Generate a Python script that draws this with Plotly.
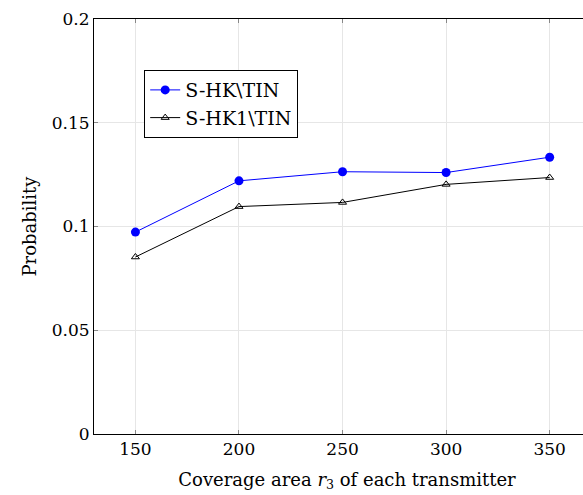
import plotly.graph_objects as go

x_vals = [150, 200, 250, 300, 350]
s_hk_tin = [0.0973, 0.1220, 0.1264, 0.1260, 0.1334]
s_hk1_tin = [0.0853, 0.1096, 0.1116, 0.1203, 0.1236]
y_ticks = [0, 0.05, 0.1, 0.15, 0.2]
y_tick_text = ["0", "0.05", "0.1", "0.15", "0.2"]
x_ticks = [150, 200, 250, 300, 350]
x_range = [130, 374.3]

font_family = "DejaVu Serif"

fig = go.Figure()
fig.add_trace(go.Scatter(
    x=x_vals, y=s_hk_tin, mode="lines+markers", name="S-HK\\TIN",
    line=dict(color="#0000ff", width=1),
    marker=dict(symbol="circle", size=9, color="#0000ff"),
))
fig.add_trace(go.Scatter(
    x=x_vals, y=s_hk1_tin, mode="lines+markers", name="S-HK1\\TIN",
    line=dict(color="black", width=1),
    marker=dict(symbol="triangle-up-open", size=7, color="black", line=dict(width=1)),
))
# invisible trace so the top axis (ticks only) is drawn
fig.add_trace(go.Scatter(x=x_vals, y=s_hk_tin, xaxis="x2", yaxis="y",
                         mode="none", showlegend=False, hoverinfo="skip"))

fig.update_layout(
    width=600, height=495,
    margin=dict(l=94, r=0, t=19, b=61),
    paper_bgcolor="white", plot_bgcolor="white",
    font=dict(family=font_family, size=17, color="black"),
    showlegend=True,
    legend=dict(
        x=0.0992, y=0.877, xanchor="left", yanchor="top",
        bordercolor="black", borderwidth=1, bgcolor="white",
        font=dict(size=19, family=font_family),
        tracegroupgap=0, itemwidth=30,
    ),
    xaxis=dict(
        range=x_range, tickvals=x_ticks,
        showgrid=True, gridcolor="#e6e6e6", gridwidth=1,
        showline=True, linecolor="black", linewidth=1, mirror=False,
        ticks="inside", ticklen=4, tickcolor="#888888",
        zeroline=False,
        title=dict(text="Coverage area <i>r</i><sub>3</sub> of each transmitter",
                   font=dict(size=18, family=font_family), standoff=14),
        tickfont=dict(size=17),
    ),
    xaxis2=dict(
        overlaying="x", side="top", anchor="y",
        range=x_range, tickvals=x_ticks, showticklabels=False,
        showgrid=False, zeroline=False,
        showline=True, linecolor="black", linewidth=1,
        ticks="inside", ticklen=4, tickcolor="#888888",
    ),
    yaxis=dict(
        range=[0, 0.2], tickvals=y_ticks, ticktext=y_tick_text,
        showgrid=True, gridcolor="#e6e6e6", gridwidth=1,
        showline=True, linecolor="black", linewidth=1, mirror=False,
        ticks="inside", ticklen=4, tickcolor="#888888",
        zeroline=False,
        title=dict(text="Probability", font=dict(size=18, family=font_family), standoff=10),
        tickfont=dict(size=17),
    ),
)

fig.write_html(
    "out.html",
    config={"displayModeBar": False},
    post_script="document.body.style.margin='0';document.body.style.overflow='hidden';document.documentElement.style.overflow='hidden';",
)
